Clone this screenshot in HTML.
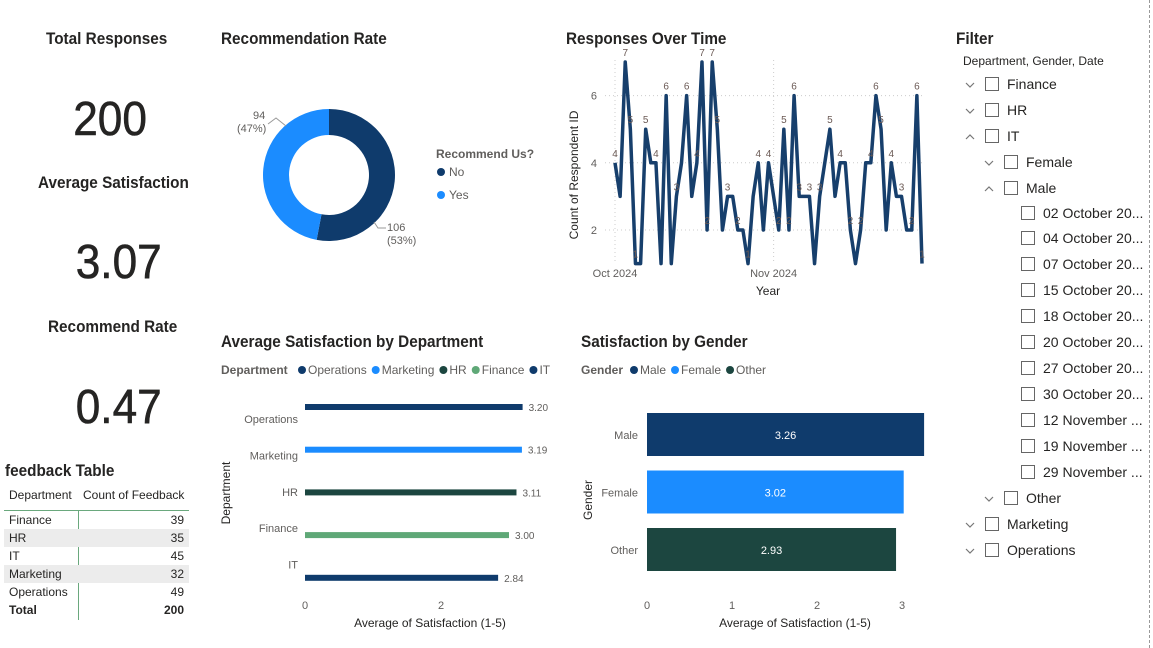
<!DOCTYPE html>
<html><head><meta charset="utf-8">
<style>
body{margin:0;width:1153px;height:648px;background:#fff;font-family:"Liberation Sans",sans-serif;overflow:hidden;position:relative}
.a{position:absolute;white-space:nowrap}
.t{font-weight:bold;font-size:17px;color:#252423;transform:scaleX(0.9);transform-origin:left}
.big{font-size:48px;color:#252423;transform:scaleX(0.92);transform-origin:center;-webkit-text-stroke:0.6px #252423}
.f{font-size:14px;color:#252423}
.cb{display:inline-block;width:12px;height:12px;border:1px solid #666;vertical-align:-2px;margin-right:8px;background:#fff}
.car{display:inline-block;width:14px;margin-right:6px;vertical-align:1px}
</style></head><body>
<div class="a" style="left:1149px;top:0;height:648px;border-left:1px dashed #999"></div>

<div class="a t" style="left:46px;top:29px">Total Responses</div>
<div class="a big" style="left:70px;top:92px">200</div>
<div class="a t" style="left:38px;top:173px">Average Satisfaction</div>
<div class="a big" style="left:72px;top:235px">3.07</div>
<div class="a t" style="left:48px;top:317px">Recommend Rate</div>
<div class="a big" style="left:72px;top:380px">0.47</div>

<div class="a t" style="left:5px;top:461px">feedback Table</div>
<div class="a" style="left:4px;top:486px;width:185px;font-size:12px;color:#252423">
 <div style="height:24px;border-bottom:1px solid #6aa87d;position:relative"><span class="a" style="left:5px;top:2px">Department</span><span class="a" style="left:79px;top:2px">Count of Feedback</span></div>
 <div style="position:absolute;left:74px;top:24px;height:110px;border-left:1px solid #6aa87d"></div>
 <div id="rows"></div>
</div>

<div class="a t" style="left:221px;top:29px">Recommendation Rate</div>
<div class="a t" style="left:566px;top:29px">Responses Over Time</div>
<div class="a t" style="left:221px;top:332px">Average Satisfaction by Department</div>
<div class="a t" style="left:581px;top:332px">Satisfaction by Gender</div>

<svg class="a" style="left:0;top:0" width="1153" height="648" id="svg" font-family="Liberation Sans, sans-serif"></svg>

<div class="a t" style="left:956px;top:29px">Filter</div>
<div class="a" style="left:963px;top:54px;font-size:12px;color:#252423">Department, Gender, Date</div>
<div id="tree"></div>

<script>
const NS="http://www.w3.org/2000/svg";
const svg=document.getElementById('svg');
function el(tag,attrs,parent){const e=document.createElementNS(NS,tag);for(const k in attrs)e.setAttribute(k,attrs[k]);(parent||svg).appendChild(e);return e;}
function tx(x,y,s,attrs){const e=el('text',Object.assign({x:x,y:y,'font-size':11,fill:'#605e5c'},attrs||{}));e.textContent=s;return e;}

// table
const tDepts=["Finance","HR","IT","Marketing","Operations"];
const tCounts=[39,35,45,32,49];
const rows=document.getElementById('rows');
tDepts.forEach((d,i)=>{const r=document.createElement('div');


r.style.cssText='height:18px;position:relative;'+(i%2?'background:#ececec':'');
r.innerHTML='<span class="a" style="left:5px;top:2px">'+d+'</span><span class="a" style="right:5px;top:2px">'+tCounts[i]+'</span>';rows.appendChild(r);});
const tr=document.createElement('div');tr.style.cssText='height:18px;position:relative;font-weight:bold';


tr.innerHTML='<span class="a" style="left:5px;top:2px">Total</span><span class="a" style="right:5px;top:2px">200</span>';rows.appendChild(tr);

// donut
const dLabels=["No","Yes"];
const dValues=[106,94];
const dColors=["#0f3b6c","#1b8cff"];
const cx=329,cy=175,R=66,r0=40;
let tot=dValues.reduce((a,b)=>a+b,0),ang=0;
dValues.forEach((v,i)=>{const a0=ang,a1=ang+v/tot*2*Math.PI;ang=a1;
const p=(a,rr)=>[cx+rr*Math.sin(a),cy-rr*Math.cos(a)];
const [x0,y0]=p(a0,R),[x1,y1]=p(a1,R),[x2,y2]=p(a1,r0),[x3,y3]=p(a0,r0);const lg=(a1-a0)>Math.PI?1:0;
const s=el('path',{d:`M${x0},${y0}A${R},${R} 0 ${lg} 1 ${x1},${y1}L${x2},${y2}A${r0},${r0} 0 ${lg} 0 ${x3},${y3}Z`,fill:dColors[i]});

});
tx(253,119,"94");tx(237,132,"(47%)");el('polyline',{points:"268,124 276,118 286,126",fill:'none',stroke:'#999'});
tx(387,231,"106");tx(387,244,"(53%)");el('polyline',{points:"374,222 378,228 386,228",fill:'none',stroke:'#999'});
tx(436,158,"Recommend Us?",{'font-weight':'bold','font-size':12});
dLabels.forEach((l,i)=>{const c=el('circle',{cx:441,cy:172+i*23,r:4,fill:dColors[i]});tx(449,176+i*23,l,{'font-size':12});});

// line chart
const lineValues=[4,3,7,5,1,1,5,4,4,1,6,1,3,4,6,3,4,7,2,7,5,2,3,3,2,2,1,3,4,2,4,3,2,5,2,6,3,3,3,1,3,4,5,3,4,4,2,1,2,4,4,6,5,2,4,3,3,2,2,6,1];
const yTicks=[2,4,6];
const xTickLabels=["Oct 2024","Nov 2024"];
const xTickIdx=[0,31];
const lx=i=>615+i*(307/60), ly=v=>230-(v-2)*33.6;
yTicks.forEach(v=>{el('line',{x1:605,x2:922,y1:ly(v),y2:ly(v),stroke:'#ccc','stroke-dasharray':'1,3'});tx(597,ly(v)+4,v,{'text-anchor':'end'});});
xTickIdx.forEach((d,k)=>{el('line',{x1:lx(d),x2:lx(d),y1:60,y2:264,stroke:'#ccc','stroke-dasharray':'1,3'});tx(lx(d),277,xTickLabels[k],{'text-anchor':'middle'});});
const ln=el('polyline',{points:lineValues.map((v,i)=>lx(i)+','+ly(v)).join(' '),fill:'none',stroke:'#173f6c','stroke-width':3.5,'stroke-linejoin':'round'});


lineValues.forEach((v,i)=>{if(i%2==0||v>=5)tx(lx(i),ly(v)-6,v,{'text-anchor':'middle',fill:'#6b5a55','font-size':10});});
tx(578,175,"Count of Respondent ID",{transform:'rotate(-90 578 175)','text-anchor':'middle',fill:'#252423','font-size':12});
tx(768,295,"Year",{'text-anchor':'middle',fill:'#252423','font-size':12});

// dept bar chart
const depts=["Operations","Marketing","HR","Finance","IT"];
const deptVals=[3.20,3.19,3.11,3.00,2.84];
const deptColors=["#0f3b6c","#1b8cff","#1c4640","#5fa877","#0f3b6c"];
const bx=v=>305+v*68;
tx(221,374,"Department",{'font-weight':'bold','font-size':12,fill:'#605e5c'});
let lgx=302;depts.forEach((d,i)=>{el('circle',{cx:lgx,cy:370,r:4,fill:deptColors[i]});const t=tx(lgx+6,374,d,{'font-size':12});lgx+=6+t.getComputedTextLength()+9;});
depts.forEach((d,i)=>{const y=407+i*42.7;const b=el('rect',{x:305,y:y-3,width:bx(deptVals[i])-305,height:6,fill:deptColors[i]});


tx(bx(deptVals[i])+6,y+4,deptVals[i].toFixed(2),{'font-size':10});
tx(298,y+16-i*6.3,d,{'text-anchor':'end'});});
[0,2].forEach(v=>tx(bx(v),609,v,{'text-anchor':'middle'}));
tx(230,493,"Department",{transform:'rotate(-90 230 493)','text-anchor':'middle',fill:'#252423','font-size':12});
tx(430,627,"Average of Satisfaction (1-5)",{'text-anchor':'middle',fill:'#252423','font-size':12});

// gender bar chart
const genders=["Male","Female","Other"];
const genderVals=[3.26,3.02,2.93];
const genderColors=["#0f3b6c","#1b8cff","#1c4640"];
const gx=v=>647+v*85;
tx(581,374,"Gender",{'font-weight':'bold','font-size':12,fill:'#605e5c'});
lgx=634;genders.forEach((g,i)=>{el('circle',{cx:lgx,cy:370,r:4,fill:genderColors[i]});const t=tx(lgx+6,374,g,{'font-size':12});lgx+=6+t.getComputedTextLength()+9;});
genders.forEach((g,i)=>{const y=413+i*57.5;const b=el('rect',{x:647,y:y,width:gx(genderVals[i])-647,height:43,fill:genderColors[i]});


tx((647+gx(genderVals[i]))/2,y+26,genderVals[i].toFixed(2),{'text-anchor':'middle',fill:'#fff','font-size':11});
tx(638,y+26,g,{'text-anchor':'end'});});
[0,1,2,3].forEach(v=>tx(gx(v),609,v,{'text-anchor':'middle'}));
tx(592,500,"Gender",{transform:'rotate(-90 592 500)','text-anchor':'middle',fill:'#252423','font-size':12});
tx(795,627,"Average of Satisfaction (1-5)",{'text-anchor':'middle',fill:'#252423','font-size':12});

// filter tree
const tree=[["Finance",0,"v"],["HR",0,"v"],["IT",0,"^"],["Female",1,"v"],["Male",1,"^"],
["02 October 20...",2,""],["04 October 20...",2,""],["07 October 20...",2,""],["15 October 20...",2,""],["18 October 20...",2,""],["20 October 20...",2,""],["27 October 20...",2,""],["30 October 20...",2,""],["12 November ...",2,""],["19 November ...",2,""],["29 November ...",2,""],
["Other",1,"v"],["Marketing",0,"v"],["Operations",0,"v"]];
const down='<svg width="10" height="6"><polyline points="1,1 5,5 9,1" fill="none" stroke="#777" stroke-width="1.2"/></svg>';
const up='<svg width="10" height="6"><polyline points="1,5 5,1 9,5" fill="none" stroke="#777" stroke-width="1.2"/></svg>';
const tEl=document.getElementById('tree');
tree.forEach((n,i)=>{const d=document.createElement('div');d.className='a f';


d.style.left=(965+n[1]*19)+'px';d.style.top=(75+i*25.9)+'px';
d.innerHTML=(n[1]<2?'<span class="car">'+(n[2]=='v'?down:up)+'</span>':'<span style="display:inline-block;width:18px"></span>')+'<span class="cb"></span>'+n[0];tEl.appendChild(d);});
</script>
</body></html>
